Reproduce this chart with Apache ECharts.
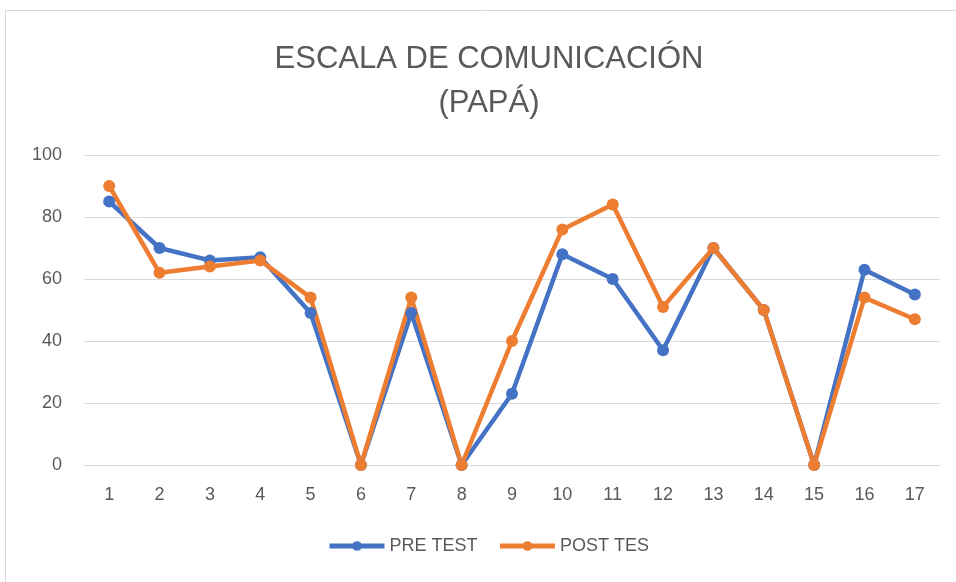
<!DOCTYPE html>
<html>
<head>
<meta charset="utf-8">
<script src="https://cdn.jsdelivr.net/npm/echarts@6/dist/echarts.min.js"></script>
<style>html,body{margin:0;padding:0;background:#fff}#c{width:956px;height:582px}</style>
</head>
<body>
<div id="c"></div>
<script>
const categories = ['1','2','3','4','5','6','7','8','9','10','11','12','13','14','15','16','17'];
const preTest = [85, 70, 66, 67, 49, 0, 49, 0, 23, 68, 60, 37, 70, 50, 0, 63, 55];
const postTest = [90, 62, 64, 66, 54, 0, 54, 0, 40, 76, 84, 51, 70, 50, 0, 54, 47];
const seriesNames = ['PRE TEST', 'POST TES'];
const titleText = 'ESCALA DE COMUNICACIÓN\n(PAPÁ)';

const chart = echarts.init(document.getElementById('c'), null, {renderer: 'canvas'});
const font = 'Liberation Sans, Arial, sans-serif';
chart.setOption({
  backgroundColor: '#fff',
  animation: false,
  graphic: [{
    type: 'rect', silent: true, z: -10,
    shape: {x: 5.5, y: 10.5, width: 1000, height: 1000},
    style: {fill: '#fff', stroke: '#d9d9d9', lineWidth: 1}
  }],
  title: {
    text: titleText,
    left: 484,
    textAlign: 'center',
    top: 32,
    textStyle: {fontFamily: font, fontSize: 31, fontWeight: 'normal', color: '#595959', lineHeight: 44}
  },
  legend: {
    bottom: 22,
    left: 322,
    itemWidth: 55,
    itemHeight: 12,
    itemGap: 20,
    lineStyle: {width: 5},
    textStyle: {fontFamily: font, fontSize: 18, color: '#595959'},
    data: seriesNames
  },
  grid: {left: 84, right: 16, top: 155, bottom: 117},
  xAxis: {
    type: 'category',
    data: categories,
    boundaryGap: true,
    axisLine: {show: true, lineStyle: {color: '#d9d9d9'}},
    axisTick: {show: false},
    axisLabel: {fontFamily: font, fontSize: 18, color: '#595959', margin: 21}
  },
  yAxis: {
    type: 'value',
    min: 0, max: 100, interval: 20,
    axisLine: {show: false},
    axisTick: {show: false},
    axisLabel: {fontFamily: font, fontSize: 18, color: '#595959', margin: 22},
    splitLine: {lineStyle: {color: '#d9d9d9', width: 1}}
  },
  series: [
    {
      name: seriesNames[0], type: 'line', data: preTest,
      symbol: 'circle', symbolSize: 12,
      lineStyle: {color: '#4472C4', width: 4.5},
      itemStyle: {color: '#4472C4'}
    },
    {
      name: seriesNames[1], type: 'line', data: postTest,
      symbol: 'circle', symbolSize: 12,
      lineStyle: {color: '#ED7D31', width: 4.5},
      itemStyle: {color: '#ED7D31'}
    }
  ]
});
</script>
</body>
</html>
